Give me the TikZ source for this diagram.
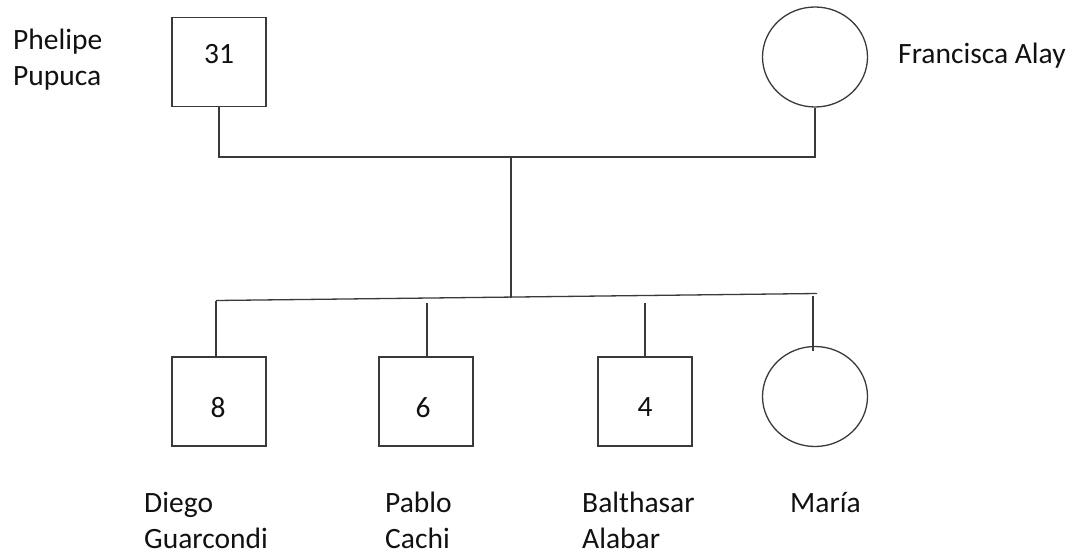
\documentclass[tikz,border=0pt]{standalone}
\usepackage{fontspec}
\setmainfont{Carlito}
\usetikzlibrary{shapes.geometric}
\definecolor{ln}{HTML}{3A3A3A}
\definecolor{tx}{HTML}{111111}
\tikzset{
  male/.style={draw=ln, line width=1.3pt, rectangle, minimum width=94pt, minimum height=89pt, inner sep=0pt},
  female/.style={draw=ln, line width=1.3pt, ellipse, minimum width=105pt, minimum height=100pt, inner sep=0pt},
  lbl/.style={text=tx, font=\fontsize{29.5}{36}\selectfont, inner sep=0pt, align=left, anchor=base west},
  num/.style={text=tx, font=\fontsize{29.5}{36}\selectfont, inner sep=0pt, anchor=base},
  link/.style={draw=ln, line width=1.3pt}
}
\begin{document}
\begin{tikzpicture}[x=1pt,y=-1pt]
\useasboundingbox (0,0) rectangle (1078,557);
% parents
\node[male] (fa) at (219,62) {};
\node[num] (fanum) at (219,63) {31};
\node[female] (mo) at (815,57) {};
\node[lbl] (faname) at (13,85) {Phelipe\\Pupuca};
\node[lbl] (moname) at (898,63) {Francisca Alay};
% children
\node[male] (c8) at (219,401.5) {};
\node[num] (c8num) at (218,417) {8};
\node[male] (c6) at (426,401.5) {};
\node[num] (c6num) at (423,417) {6};
\node[male] (c4) at (645,401.5) {};
\node[num] (c4num) at (645,416) {4};
\node[female] (ma) at (815,396.5) {};
\node[lbl] (n8) at (144,548) {Diego\\Guarcondi};
\node[lbl] (n6) at (385,548) {Pablo\\Cachi};
\node[lbl] (n4) at (582,548) {Balthasar\\Alabar};
\node[lbl] (nma) at (790,512) {María};
% coordinates
\coordinate (mar) at (511,157);
\coordinate (sib) at (511,298);
\coordinate (sl) at (216,300.5);
\coordinate (sr) at (817,293.5);
\coordinate (t6) at (427,303);
\coordinate (t4) at (645,303);
\coordinate (tma) at (813,296);
\coordinate (ema) at (813,351);
% connectors
\draw[link] (fa.south) |- (mar) -| (mo.south);
\draw[link] (mar) -- (sib);
\draw[link] (sl) -- (sr);
\draw[link] (sl) -- (sl |- c8.north);
\draw[link] (t6) -- (t6 |- c6.north);
\draw[link] (t4) -- (t4 |- c4.north);
\draw[link] (tma) -- (ema);
\end{tikzpicture}
\end{document}
